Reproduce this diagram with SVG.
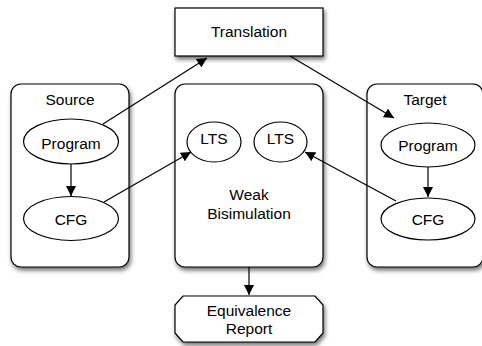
<svg xmlns="http://www.w3.org/2000/svg" width="482" height="346" viewBox="0 0 482 346">
  <defs>
    <filter id="shadow" x="-20%" y="-20%" width="140%" height="150%">
      <feDropShadow dx="1.5" dy="3" stdDeviation="2" flood-color="#000" flood-opacity="0.55"/>
    </filter>
    <marker id="arrow" viewBox="0 0 10 10" refX="10" refY="5" markerWidth="10" markerHeight="10" markerUnits="userSpaceOnUse" orient="auto">
      <path d="M0,0 L10,5 L0,10 Z" fill="#000"/>
    </marker>
  </defs>
  <style>
    .box { fill: #fff; stroke: #000; stroke-width: 1.2; filter: url(#shadow); }
    .shape { fill: #fff; stroke: #000; stroke-width: 1.2; }
    .edge { fill: none; stroke: #000; stroke-width: 1.2; marker-end: url(#arrow); }
    text { font-family: "Liberation Sans", Arial, Helvetica, sans-serif; font-size: 15.5px; fill: #000; text-anchor: middle; }
  </style>

  <!-- container: source side -->
  <g id="source">
    <rect class="box" x="11" y="84" width="118" height="183" rx="10"/>
    <text x="70" y="105">Source</text>
  </g>

  <!-- container: weak bisimulation -->
  <g id="bisimulation">
    <rect class="box" x="175" y="84" width="148" height="183" rx="10"/>
    <text x="249" y="200">Weak</text>
    <text x="249" y="219">Bisimulation</text>
  </g>

  <!-- container: target side -->
  <g id="target">
    <rect class="box" x="367" y="84" width="116" height="183" rx="10"/>
    <text x="425" y="105">Target</text>
  </g>

  <g id="translation">
    <rect class="box" x="175" y="8" width="148" height="48"/>
    <text x="249" y="37">Translation</text>
  </g>

  <g id="source-program">
    <ellipse class="shape" cx="71" cy="141.5" rx="47.5" ry="22.5"/>
    <text x="71" y="149">Program</text>
  </g>

  <g id="source-cfg">
    <ellipse class="shape" cx="71" cy="218.5" rx="47.5" ry="22"/>
    <text x="71" y="225">CFG</text>
  </g>

  <g id="lts-source">
    <ellipse class="shape" cx="214" cy="142" rx="27" ry="20"/>
    <text x="214" y="143.5" dy="0">LTS</text>
  </g>

  <g id="lts-target">
    <ellipse class="shape" cx="280.5" cy="142" rx="26.5" ry="20"/>
    <text x="280.5" y="143.5">LTS</text>
  </g>

  <g id="target-program">
    <ellipse class="shape" cx="428" cy="145" rx="47" ry="22"/>
    <text x="428" y="151">Program</text>
  </g>

  <g id="target-cfg">
    <ellipse class="shape" cx="428" cy="219" rx="47" ry="21"/>
    <text x="428" y="225">CFG</text>
  </g>

  <g id="report">
    <polygon class="box" points="183,296 315,296 323,305 323,333 315,342 183,342 175,333 175,305"/>
    <text x="249" y="316">Equivalence</text>
    <text x="249" y="334">Report</text>
  </g>

  <!-- connectors -->
  <g id="edges">
    <line class="edge" x1="103" y1="124" x2="207" y2="58"/>
    <line class="edge" x1="290" y1="56" x2="394" y2="118"/>
    <line class="edge" x1="71" y1="164" x2="71" y2="196"/>
    <line class="edge" x1="428" y1="167" x2="428" y2="197"/>
    <line class="edge" x1="104" y1="202" x2="191" y2="152"/>
    <line class="edge" x1="396" y1="201" x2="305" y2="152"/>
    <line class="edge" x1="249" y1="267" x2="249" y2="295"/>
  </g>
</svg>
